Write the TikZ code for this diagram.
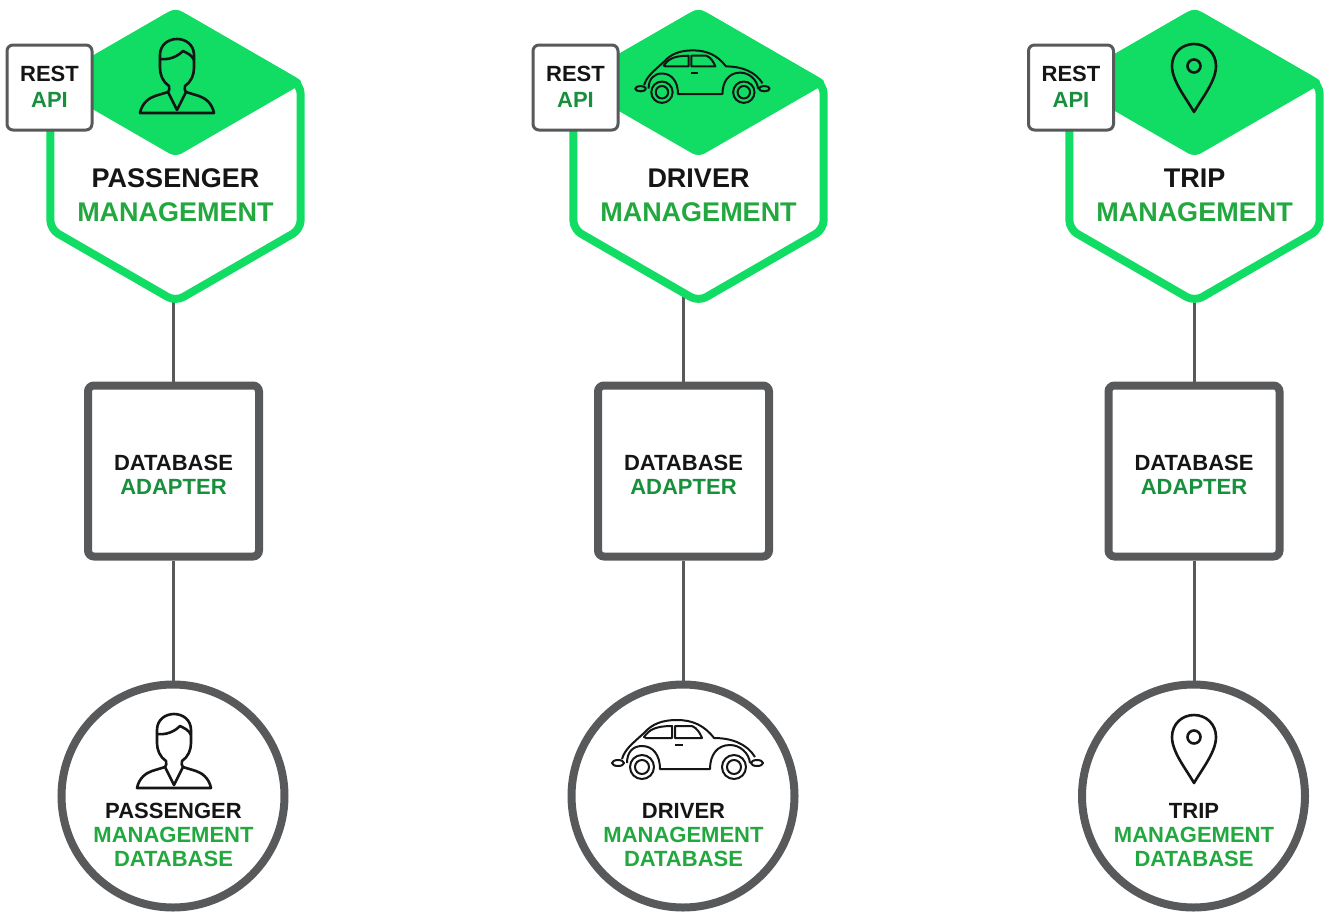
\documentclass[tikz,border=0pt]{standalone}
\usepackage{fontspec}
\setmainfont{Liberation Sans}
\usepackage{xcolor}
\usepackage{tikz}
\usetikzlibrary{shapes.geometric}
\definecolor{hexgreen}{HTML}{11DC63}
\definecolor{txtgreen}{HTML}{22A83F}
\definecolor{apigreen}{HTML}{178F3C}
\definecolor{boxgray}{HTML}{58595B}
\definecolor{inkblack}{HTML}{151515}

\begin{document}
\begin{tikzpicture}[x=1pt,y=-1pt]
          \tikzstyle{hexnode}=[regular polygon,regular polygon sides=6,shape border rotate=30,minimum size=289,inner sep=0,draw=hexgreen,line width=8,rounded corners=9,fill=white]
          \tikzstyle{hextop}=[fill=hexgreen,rounded corners=7]
          \tikzstyle{restbox}=[draw=boxgray,line width=3,fill=white,rounded corners=6,minimum size=85,inner sep=0]
          \tikzstyle{dbbox}=[draw=boxgray,line width=8,fill=white,rounded corners=6,minimum size=171,inner sep=0]
          \tikzstyle{dbcircle}=[circle,draw=boxgray,line width=8,fill=white,minimum size=223,inner sep=0]
          \tikzstyle{stem}=[draw=boxgray,line width=3]
          \tikzstyle{icon}=[draw=inkblack,line width=2.6,line join=round]
          \tikzstyle{thinicon}=[draw=inkblack,line width=2,line join=round]
          \tikzstyle{hexlabel}=[align=center,inner sep=0,font=\fontsize{27}{34}\bfseries\selectfont]
          \tikzstyle{restlabel}=[align=center,inner sep=0,font=\fontsize{22}{26}\bfseries\selectfont]
          \tikzstyle{dblabel}=[align=center,inner sep=0,font=\fontsize{22}{24}\bfseries\selectfont]
          \tikzset{
            personicon/.pic={
              \draw[icon] (-37,0) .. controls (-35,-10) and (-28,-15) .. (-22,-17) -- (-9,-21) .. controls (-7,-22) and (-8,-25) .. (-8,-27) .. controls (-14,-31) and (-17,-38) .. (-17,-45) -- (-17,-58) .. controls (-17,-68) and (-9,-74) .. (0,-74) .. controls (9,-74) and (17,-68) .. (17,-58) -- (17,-45) .. controls (17,-38) and (14,-31) .. (8,-27) .. controls (8,-25) and (7,-22) .. (9,-21) -- (22,-17) .. controls (28,-15) and (35,-10) .. (37,0) -- cycle;
              \draw[icon] (-9,-21) -- (0,-3) -- (9,-21);
              \draw[icon] (-17,-54) .. controls (-8,-53) and (0,-56) .. (6,-62) .. controls (10,-60) and (15,-58) .. (17,-53);
            },
            caricon/.pic={
              \draw[thinicon] (-60,-6) .. controls (-60,-17) and (-54,-23) .. (-45,-23) .. controls (-34,-23) and (-27,-14) .. (-27,0) -- (23,0) .. controls (23,-14) and (30,-24) .. (43,-24) .. controls (53,-24) and (62,-16) .. (63,-6);
              \draw[thinicon] (-65,-10) .. controls (-62,-20) and (-55,-25) .. (-43,-36) .. controls (-35,-45) and (-25,-49) .. (-10,-49) .. controls (5,-49) and (17,-44) .. (27,-31) .. controls (45,-31) and (60,-25) .. (68,-12);
              \draw[thinicon] (-43,-32) .. controls (-38,-39) and (-32,-43) .. (-15,-43) -- (-15,-31) -- (-41,-31) -- cycle;
              \draw[thinicon] (-12,-43) -- (5,-43) .. controls (10,-41) and (13,-36) .. (15,-31) -- (-12,-31) -- cycle;
              \draw[thinicon] (-12,-24) -- (-4,-24);
              \draw[thinicon] (-69,-6) ellipse (6 and 3);
              \draw[thinicon] (70,-6) ellipse (6 and 3);
              \foreach \wx in {-45,47}{
                \draw[thinicon] (\wx,-2) circle (12);
                \draw[thinicon] (\wx,-2) circle (7);
              }
            },
            pinicon/.pic={
              \draw[icon] (0,0) .. controls (-8,-14) and (-22,-31) .. (-22,-46) .. controls (-22,-59) and (-12,-68) .. (0,-68) .. controls (12,-68) and (22,-59) .. (22,-46) .. controls (22,-31) and (8,-14) .. (0,0) -- cycle;
              \draw[icon] (0,-46) circle (6.5);
            }
          }
          \useasboundingbox (0,0) rectangle (1340,918);
          \foreach \nm/\hx/\rx/\bx/\ttl in {pas/175.5/49.5/173.5/PASSENGER,drv/698.5/575.5/683.5/DRIVER,trp/1194.5/1071/1194/TRIP}{
            \node[dbbox] (ad\nm) at (\bx,471) {};
            \node[dbcircle] (db\nm) at (\bx-.5,796) {};
            \coordinate (foot\nm) at (\bx,295);
            \draw[stem] (foot\nm) -- (ad\nm.north);
            \draw[stem] (ad\nm.south) -- (ad\nm.south |- db\nm.north);
            \node[hexnode] (hex\nm) at (\hx,157) {};
            \path[hextop] (hex\nm.corner 1) -- (hex\nm.corner 2) -- (hex\nm.center) -- (hex\nm.corner 6) -- cycle;
            \node[restbox] (rest\nm) at (\rx,87.5) {};
            \node[restlabel] (restlab\nm) at (\rx,87) {\textcolor{inkblack}{REST}\\\textcolor{apigreen}{API}};
            \node[hexlabel] (hexlab\nm) at (\hx,195) {\textcolor{inkblack}{\ttl}\\\textcolor{txtgreen}{MANAGEMENT}};
            \node[dblabel] (adlab\nm) at (\bx,475) {\textcolor{inkblack}{DATABASE}\\\textcolor{apigreen}{ADAPTER}};
            \node[dblabel] (dblab\nm) at (\bx,835) {\textcolor{inkblack}{\ttl}\\\textcolor{txtgreen}{MANAGEMENT}\\\textcolor{txtgreen}{DATABASE}};
          }
          \pic at (177,113) {personicon};
          \pic at (174,788) {personicon};
          \pic[scale=.89] at (702,94) {caricon};
          \pic at (687,769) {caricon};
          \pic at (1194,112) {pinicon};
          \pic at (1194,783) {pinicon};
        \end{tikzpicture}
\end{document}
